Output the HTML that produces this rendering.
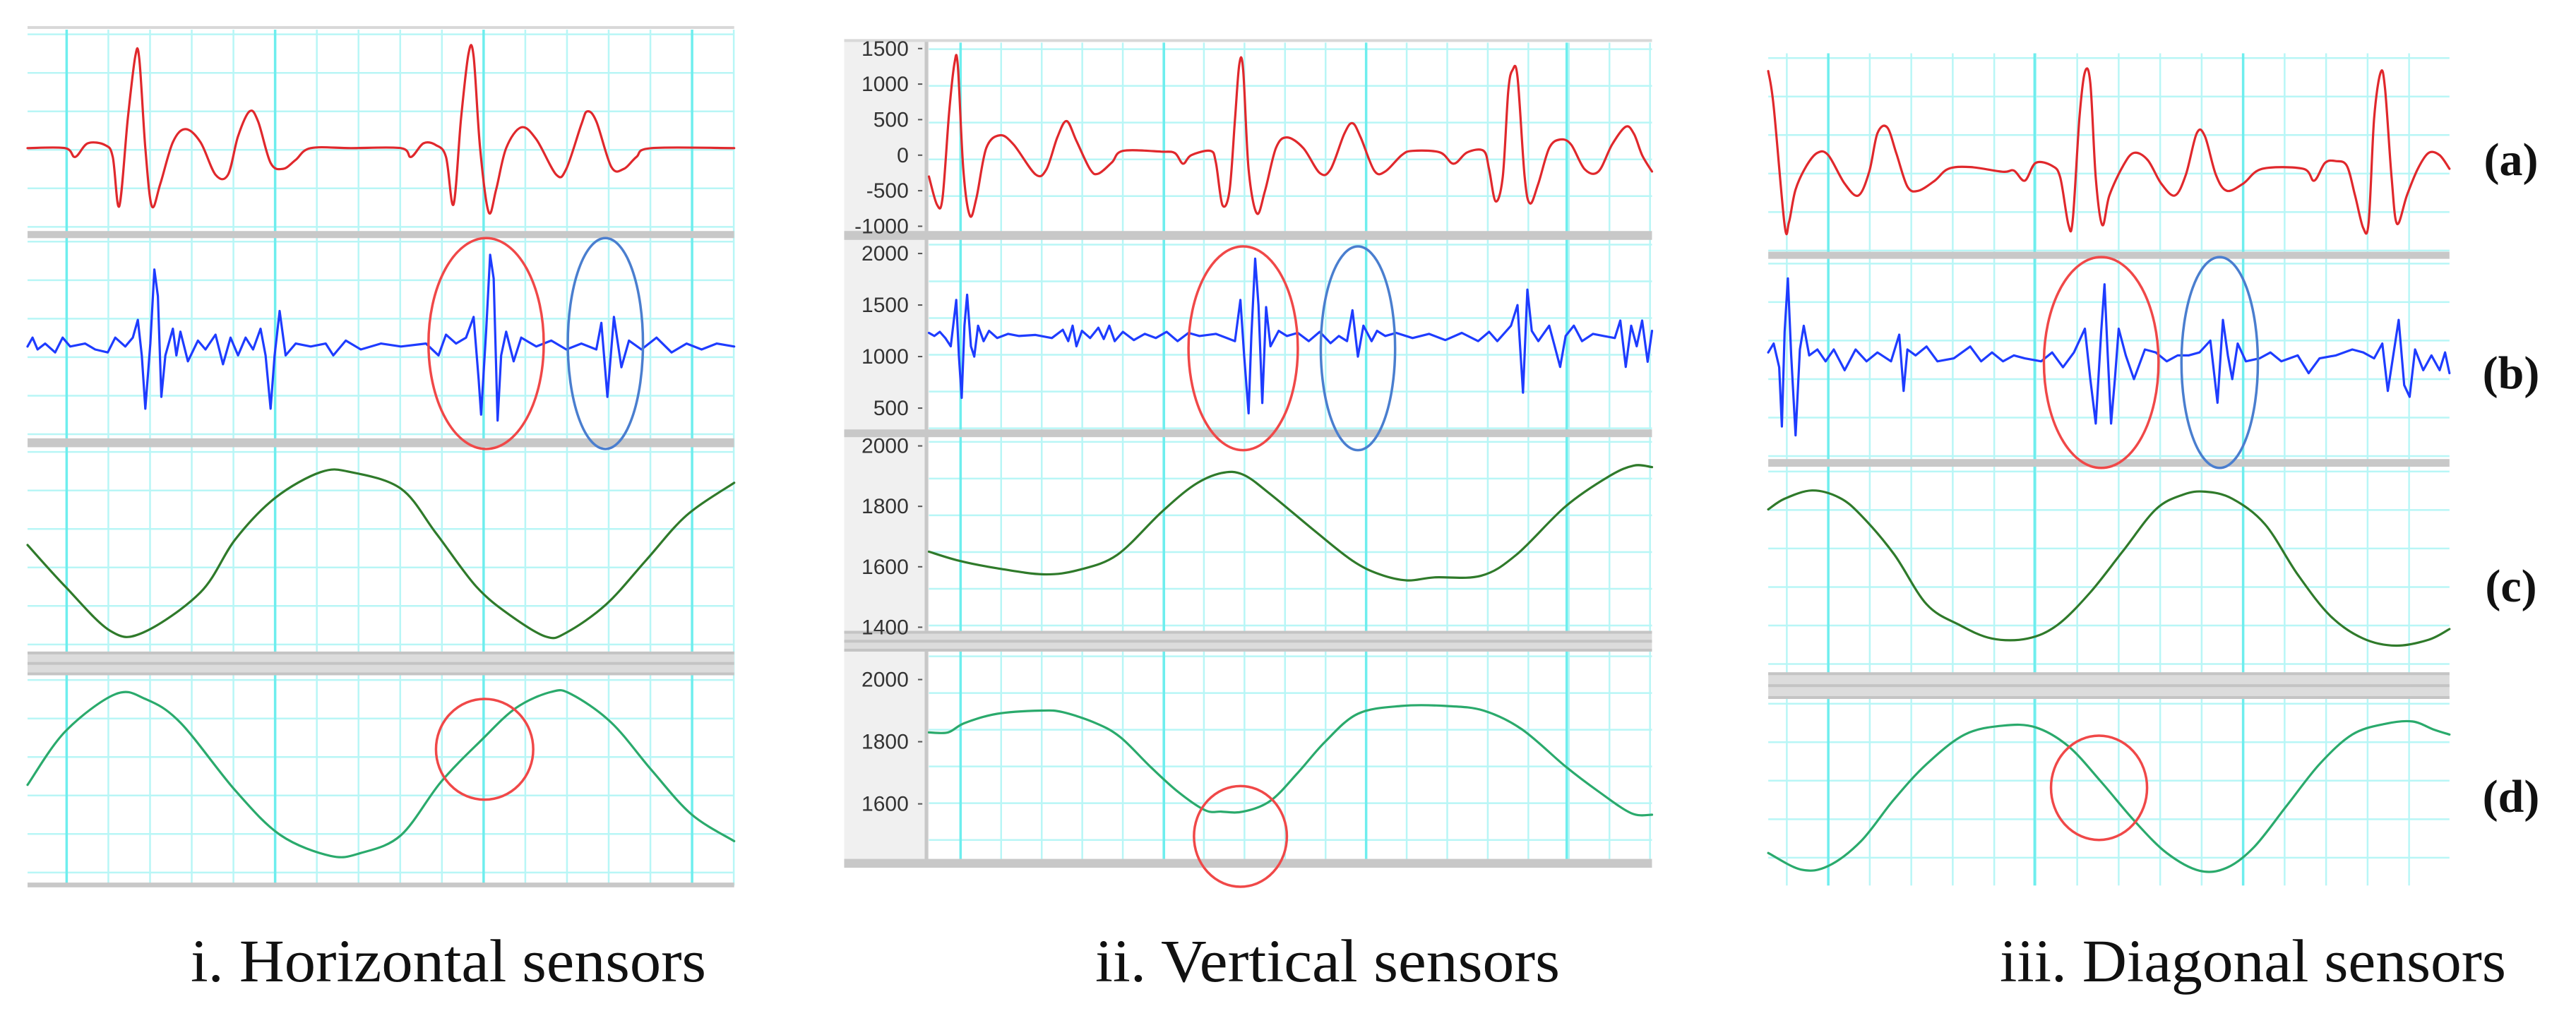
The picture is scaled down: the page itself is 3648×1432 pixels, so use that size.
<!DOCTYPE html>
<html><head><meta charset="utf-8"><style>
html,body{margin:0;padding:0;background:#fff;}
svg{display:block;}
</style></head><body>
<svg id="fig" width="3648" height="1432" viewBox="0 0 3648 1432" xmlns="http://www.w3.org/2000/svg">
<rect width="3648" height="1432" fill="#fff"/>
</svg>
<script>
// ---------------- DATA (sample index t, signal value v) ----------------
// Panel i (horizontal sensors) - arbitrary units
const p1RedT=[55,130,150,175,210,225,238,255,270,278,290,303,320,345,370,400,430,455,475,498,515,540,565,590,620,700,800,820,845,870,890,905,920,935,945,958,975,990,1010,1040,1070,1110,1130,1160,1172,1190,1220,1245,1270,1300,1465];
const p1RedV=[140,140,125,148,145,125,42,190,295,290,140,42,80,150,172,150,95,95,160,202,185,115,105,120,140,140,140,125,148,145,125,45,190,300,295,140,32,70,140,175,155,95,105,180,202,185,108,105,125,140,140];
const p1BlueT=[55,65,75,90,110,125,140,170,190,215,230,250,265,275,283,290,300,308,315,322,330,345,352,360,375,395,410,430,445,460,475,490,505,520,530,540,548,558,570,590,620,650,665,690,720,760,800,850,875,890,910,930,945,955,960,970,978,985,993,1000,1010,1025,1040,1070,1100,1130,1160,1190,1200,1212,1225,1240,1255,1280,1310,1340,1370,1400,1430,1465];
const p1BlueV=[160,175,155,165,150,175,160,165,155,150,175,160,175,205,145,55,165,290,245,75,145,190,145,185,135,170,155,180,130,175,145,175,155,190,145,55,145,220,145,165,160,165,145,170,155,165,160,165,145,180,165,175,210,105,45,185,315,275,35,145,185,135,175,160,170,155,165,155,200,75,210,125,170,155,175,150,165,155,165,160];
const p1DgT=[55,130,220,285,400,470,550,640,700,800,870,950,1020,1090,1130,1210,1290,1370,1465];
const p1DgV=[180,110,35,32,100,190,260,303,303,275,200,110,60,25,32,80,155,230,285];
const p1GrT=[55,130,230,290,360,470,560,660,720,800,880,960,1030,1100,1140,1220,1300,1380,1465];
const p1GrV=[170,260,323,315,275,160,85,50,55,85,175,245,300,327,323,275,195,120,75];

// Panel ii (vertical sensors) - sensor units
const p2RedT=[175,190,200,212,222,228,238,250,262,280,305,330,370,390,410,427,445,470,485,510,530,600,625,640,655,690,700,712,725,735,743,750,760,775,790,810,830,860,890,910,935,950,965,990,1010,1040,1060,1110,1135,1160,1190,1200,1212,1225,1235,1243,1252,1265,1275,1290,1310,1330,1350,1375,1400,1425,1450,1465,1480,1498];
const p2RedV=[-300,-700,-600,600,1300,1250,-200,-850,-600,100,280,150,-270,-200,250,480,200,-200,-260,-100,60,50,30,-120,0,60,-100,-700,-500,500,1280,1200,-200,-820,-500,100,250,100,-250,-200,300,450,250,-220,-230,0,60,40,-120,40,60,-200,-650,-300,900,1200,1100,-300,-680,-400,100,220,150,-200,-230,150,400,300,0,-230];
const p2BlueT=[175,185,195,205,215,225,230,235,240,245,252,258,265,275,285,300,320,340,370,400,420,430,438,445,455,470,485,495,505,515,530,550,570,590,610,630,650,670,700,720,735,745,752,760,765,772,778,785,792,800,815,830,850,870,890,910,925,940,950,960,970,985,995,1010,1030,1060,1090,1120,1150,1180,1200,1215,1240,1252,1262,1270,1278,1290,1310,1320,1330,1340,1355,1370,1390,1410,1430,1440,1450,1460,1470,1480,1490,1498];
const p2BlueV=[1230,1200,1240,1180,1100,1550,1000,600,1300,1600,1100,1000,1300,1150,1250,1180,1220,1200,1210,1180,1260,1150,1300,1100,1250,1180,1280,1170,1300,1150,1240,1160,1220,1180,1240,1150,1230,1200,1220,1180,1150,1550,1000,450,1200,1950,1500,550,1480,1100,1250,1200,1230,1150,1240,1130,1200,1150,1450,1000,1300,1150,1250,1200,1230,1180,1220,1160,1230,1150,1240,1150,1300,1500,650,1650,1250,1150,1300,1100,900,1200,1300,1150,1220,1200,1180,1350,900,1300,1100,1350,950,1250];
const p2DgT=[175,230,300,385,450,520,600,660,710,750,800,880,950,1000,1050,1100,1185,1250,1340,1420,1465,1498];
const p2DgV=[1650,1620,1595,1575,1590,1640,1780,1870,1910,1905,1840,1720,1620,1575,1555,1565,1570,1640,1800,1900,1935,1930];
const p2GrT=[175,210,240,300,380,420,480,525,580,630,680,710,750,800,850,900,960,1040,1120,1190,1260,1340,1400,1460,1498];
const p2GrV=[1830,1830,1860,1890,1900,1895,1860,1815,1720,1640,1580,1575,1575,1610,1700,1800,1890,1915,1915,1900,1840,1720,1640,1570,1565];
const p2RedTicks=[1500,1000,500,0,-500,-1000];
const p2BlueTicks=[2000,1500,1000,500];
const p2DgTicks=[2000,1800,1600,1400];
const p2GrTicks=[2000,1800,1600];

// Panel iii (diagonal sensors) - arbitrary units
const p3RedT=[70,80,100,108,120,140,160,180,210,235,255,270,288,305,325,345,375,400,440,500,520,540,560,590,605,620,628,640,650,660,670,682,695,720,740,765,790,815,835,855,870,890,910,940,975,1050,1070,1090,1110,1130,1145,1160,1170,1180,1192,1200,1212,1222,1240,1260,1280,1300,1318];
const p3RedV=[305,245,45,50,105,145,167,163,115,95,135,200,210,165,110,103,120,140,143,135,137,120,150,145,125,45,55,225,303,285,125,45,95,145,167,155,115,95,130,200,195,130,103,115,140,140,120,150,153,145,95,40,50,225,303,275,125,47,95,140,167,163,140];
const p3BlueT=[70,80,90,95,100,106,112,120,128,135,145,160,175,190,210,230,250,270,295,310,318,325,340,360,380,410,440,460,480,500,520,540,570,590,610,630,650,660,670,680,686,692,698,705,712,725,740,760,780,800,820,840,860,880,893,903,912,920,930,945,970,990,1010,1040,1060,1080,1110,1140,1160,1180,1195,1205,1215,1225,1235,1245,1255,1270,1285,1300,1310,1318];
const p3BlueV=[180,195,155,55,215,305,175,40,185,225,175,185,165,185,150,185,165,180,165,210,115,185,175,190,165,170,190,165,180,165,175,170,165,180,155,180,220,135,60,215,295,175,60,135,220,175,135,185,180,165,175,175,180,200,95,235,175,135,195,165,170,180,165,175,145,170,175,185,180,170,195,115,175,235,125,105,185,150,175,150,180,145];
const p3DgT=[70,100,150,200,240,300,360,420,480,545,600,660,720,780,830,870,920,980,1040,1100,1160,1220,1280,1318];
const p3DgV=[275,293,307,295,265,200,115,80,57,57,80,135,205,275,300,305,293,250,165,95,57,45,55,73];
const p3GrT=[70,130,180,240,300,360,430,500,560,620,680,740,800,860,910,960,1020,1080,1140,1200,1250,1290,1318];
const p3GrV=[55,27,33,75,145,205,255,270,267,235,175,110,55,25,30,65,135,205,255,273,277,263,255];

// ---------------- RENDER ----------------
const NS='http://www.w3.org/2000/svg';
const svg=document.getElementById('fig');
function mk(tag,attrs,parent){const e=document.createElementNS(NS,tag);for(const k in attrs)e.setAttribute(k,attrs[k]);(parent||svg).appendChild(e);return e;}

const SY=0.839;
const panels=[
 {id:'horizontal',zx0:55,zx1:1465,s:0.7097,ox:0,top:50,rows:[[50,390],[400,745],[755,1100],[1140,1495]],
  bars:[[390,402],[740,755],[1100,1140]],bottomBar:[1490,1498],major:[133,549,965,1381],minorStep:83.2,hstep:65},
 {id:'vertical',zx0:175,zx1:1498,s:0.774,ox:1180,top:72,rows:[[75,390],[405,725],[738,1065],[1100,1450]],
  bars:[[390,405],[725,738],[1065,1100]],bottomBar:[1450,1465],major:[233,605,975,1342],minorStep:74.2,hstep:62,axisLeft:20},
 {id:'diagonal',zx0:70,zx1:1318,s:0.773,ox:2450,top:90,rows:[[90,425],[437,775],[788,1135],[1180,1495]],
  bars:[[425,437],[775,788],[1135,1180]],bottomBar:null,major:[180,558,940],minorStep:76,hstep:65}
];
const X=(p,zx)=>p.ox+zx*p.s;
const Y=(p,zy)=>zy*SY;

panels.forEach((p,pi)=>{
  const g=mk('g',{});
  
  
  const x0=X(p,p.zx0),x1=X(p,p.zx1),y0=Y(p,p.top),y1=Y(p,p.rows[3][1]);
  const bx=p.axisLeft!==undefined?X(p,p.axisLeft):x0;
  if(p.axisLeft!==undefined){
    const ax=mk('rect',{x:bx,y:y0-4,width:x0-bx,height:y1-y0+14,fill:'#f0f0f0'},g);
    
    mk('rect',{x:x0-6,y:y0-4,width:5,height:y1-y0+10,fill:'#c8c8c8'},g);
  }
  p.rows.forEach(r=>{
    for(let zy=r[0]+8;zy<r[1];zy+=p.hstep){
      mk('line',{x1:x0,x2:x1,y1:Y(p,zy),y2:Y(p,zy),stroke:'#b8f6f6','stroke-width':2.5},g);
    }
  });
  const first=p.major[0];
  for(let zx=first-Math.floor((first-p.zx0)/p.minorStep)*p.minorStep;zx<=p.zx1;zx+=p.minorStep){
    mk('line',{x1:X(p,zx),x2:X(p,zx),y1:y0,y2:y1,stroke:'#b8f6f6','stroke-width':2.5},g);
  }
  p.major.forEach(zx=>mk('line',{x1:X(p,zx),x2:X(p,zx),y1:y0,y2:y1,stroke:'#6eeeee','stroke-width':3.5},g));
  if(pi<2) mk('rect',{x:bx,y:y0-5,width:x1-bx,height:4,fill:'#d8d8d8'},g);
  p.bars.forEach((b,bi)=>{
    const h=Y(p,b[1])-Y(p,b[0]);
    const r=mk('rect',{x:bx,y:Y(p,b[0]),width:x1-bx,height:h,fill:bi===2?'#dcdcdc':'#c8c8c8'},g);
    
    if(bi===2){
      mk('rect',{x:bx,y:Y(p,b[0]),width:x1-bx,height:4,fill:'#c4c4c4'},g);
      mk('rect',{x:bx,y:Y(p,b[0])+h/2-2,width:x1-bx,height:4,fill:'#c4c4c4'},g);
      mk('rect',{x:bx,y:Y(p,b[1])-4,width:x1-bx,height:4,fill:'#c4c4c4'},g);
    }
  });
  if(p.bottomBar){
    mk('rect',{x:bx,y:Y(p,p.bottomBar[0]),width:x1-bx,height:Y(p,p.bottomBar[1])-Y(p,p.bottomBar[0]),fill:'#c8c8c8'},g);
  }
  p.g=g;
});

function series(p,row,t,v,dom,color,name,smooth){
  const r=p.rows[row];
  const ya=Y(p,r[0]),yb=Y(p,r[1]);
  const sx=tt=>X(p,p.zx0)+(tt-p.zx0)/(p.zx1-p.zx0)*(X(p,p.zx1)-X(p,p.zx0));
  const sy=vv=>yb-(vv-dom[0])/(dom[1]-dom[0])*(yb-ya);
  const P=t.map((tt,i)=>[sx(tt),sy(v[i])]);
  let d='M'+P[0][0].toFixed(1)+' '+P[0][1].toFixed(1);
  for(let i=1;i<P.length;i++){
    if(smooth){
      const p0=P[Math.max(0,i-2)],p1=P[i-1],p2=P[i],p3=P[Math.min(P.length-1,i+1)];
      const c1=[p1[0]+(p2[0]-p0[0])/6,p1[1]+(p2[1]-p0[1])/6];
      const c2=[p2[0]-(p3[0]-p1[0])/6,p2[1]-(p3[1]-p1[1])/6];
      d+='C'+c1[0].toFixed(1)+' '+c1[1].toFixed(1)+' '+c2[0].toFixed(1)+' '+c2[1].toFixed(1)+' '+p2[0].toFixed(1)+' '+p2[1].toFixed(1);
    } else d+='L'+P[i][0].toFixed(1)+' '+P[i][1].toFixed(1);
  }
  const e=mk('path',{d:d,fill:'none',stroke:color,'stroke-width':3.2,'stroke-linejoin':'round','stroke-linecap':'round'},p.g);
  
  
  return {sy:sy};
}
const RED='#e0282c',BLUE='#1e3cff',DG='#2f7a2a',GR='#2aaa6c';
series(panels[0],0,p1RedT,p1RedV,[0,340],RED,'horizontal-signal-a',true);
series(panels[0],1,p1BlueT,p1BlueV,[0,345],BLUE,'horizontal-signal-b',false);
series(panels[0],2,p1DgT,p1DgV,[0,345],DG,'horizontal-signal-c',true);
series(panels[0],3,p1GrT,p1GrV,[0,355],GR,'horizontal-signal-d',true);

const a1=series(panels[1],0,p2RedT,p2RedV,[-1067,1558],RED,'vertical-signal-a',true);
const a2=series(panels[1],1,p2BlueT,p2BlueV,[293,2132],BLUE,'vertical-signal-b',false);
const a3=series(panels[1],2,p2DgT,p2DgV,[1388,2029],DG,'vertical-signal-c',true);
const a4=series(panels[1],3,p2GrT,p2GrV,[1423,2090],GR,'vertical-signal-d',true);

series(panels[2],0,p3RedT,p3RedV,[0,335],RED,'diagonal-signal-a',true);
series(panels[2],1,p3BlueT,p3BlueV,[0,338],BLUE,'diagonal-signal-b',false);
series(panels[2],2,p3DgT,p3DgV,[0,347],DG,'diagonal-signal-c',true);
series(panels[2],3,p3GrT,p3GrV,[0,315],GR,'diagonal-signal-d',true);

const P2=panels[1];
[[a1,p2RedTicks],[a2,p2BlueTicks],[a3,p2DgTicks],[a4,p2GrTicks]].forEach(pair=>{
  pair[1].forEach(tv=>{
    const y=pair[0].sy(tv);
    mk('line',{x1:X(P2,155),x2:X(P2,163),y1:y,y2:y,stroke:'#555','stroke-width':2},P2.g);
    const tx=mk('text',{x:X(P2,138),y:y+10,'text-anchor':'end','font-family':'Liberation Sans, sans-serif','font-size':30,fill:'#333'},P2.g);
    tx.textContent=String(tv);
    
    
  });
});

const ell=[[0,970,580,115,178,'#f04848'],[0,1208,580,75,178,'#4a7ecf'],[0,967,1265,97,85,'#f04848'],
 [1,750,588,100,172,'#f04848'],[1,960,588,68,172,'#4a7ecf'],[1,745,1412,85,85,'#f04848'],
 [2,680,612,105,178,'#f04848'],[2,897,612,70,178,'#4a7ecf'],[2,676,1330,88,88,'#f04848']];
ell.forEach(e=>{
  const p=panels[e[0]];
  const el=mk('ellipse',{cx:X(p,e[1]),cy:Y(p,e[2]),rx:e[3]*p.s,ry:e[4]*SY,fill:'none',stroke:e[5],'stroke-width':3.5},p.g);
  
  
});

[['(a)',226],['(b)',528],['(c)',830],['(d)',1128]].forEach(l=>{
  const t=mk('text',{x:3556,y:l[1]+22,'text-anchor':'middle','font-family':'Liberation Serif, serif','font-size':66,'font-weight':'bold',fill:'#111'});
  t.textContent=l[0];
  
  
});
[['i. Horizontal sensors',270,730],['ii. Vertical sensors',1551,658],['iii. Diagonal sensors',2832,717]].forEach(c=>{
  const t=mk('text',{x:c[1],y:1390,'font-family':'Liberation Serif, serif','font-size':86,fill:'#111',textLength:c[2],lengthAdjust:'spacingAndGlyphs'});
  t.textContent=c[0];
  
  
});
</script>
</body></html>
